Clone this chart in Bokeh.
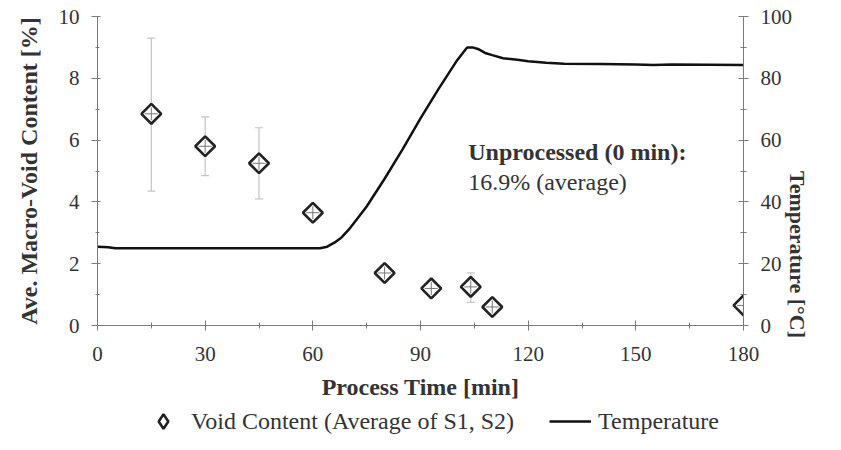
import math
from bokeh.plotting import figure
from bokeh.layouts import column
from bokeh.models import (Range1d, LinearAxis, Whisker, ColumnDataSource, Legend,
                          LegendItem, Label, SingleIntervalTicker, TeeHead)
from bokeh.embed import file_html
from bokeh.resources import INLINE

# ---- data ----
time_void = [15, 30, 45, 60, 80, 93, 104, 110, 180]
void_avg = [6.85, 5.8, 5.25, 3.65, 1.7, 1.2, 1.25, 0.6, 0.65]
void_low = [4.35, 4.85, 4.1, 3.65, 1.7, 1.2, 0.75, 0.6, 0.65]
void_high = [9.3, 6.75, 6.4, 3.65, 1.7, 1.2, 1.7, 0.6, 0.65]

time_temp = [0, 3, 5, 62, 64, 66, 68, 70, 72, 75, 80, 85, 90, 95, 100, 102, 103,
             104.5, 106, 108, 110, 113, 117, 120, 125, 130, 140, 150, 155, 160, 170, 180]
temp = [25.5, 25.3, 25.0, 25.0, 25.5, 26.8, 28.5, 31.0, 34.0, 38.5, 47.5, 57.0, 67.0,
        76.5, 85.5, 88.5, 90.0, 90.0, 89.5, 88.2, 87.5, 86.5, 86.0, 85.5, 85.0, 84.7,
        84.6, 84.5, 84.3, 84.5, 84.4, 84.3]

note_title = "Unprocessed (0 min):"
note_value = "16.9% (average)"
label_void = "Void Content (Average of S1, S2)"
label_temp = "Temperature"

FONT = "Liberation Serif"
AXC = "#7a7a7a"
TXT = "#333333"
TICK_FS = "21px"
LAB_FS = "24px"

p = figure(width=825, height=408, x_range=Range1d(0, 180), y_range=Range1d(0, 10),
           output_backend="svg", toolbar_location=None,
           min_border_left=97, min_border_right=82, min_border_top=16, min_border_bottom=83)
p.extra_y_ranges = {"temp": Range1d(0, 100)}
p.outline_line_color = None
p.grid.visible = False
p.background_fill_color = "white"
p.border_fill_color = "white"

def style_axis(ax):
    ax.axis_line_color = AXC
    ax.major_tick_line_color = AXC
    ax.minor_tick_line_color = AXC
    ax.major_label_text_font = FONT
    ax.major_label_text_font_size = TICK_FS
    ax.major_label_text_color = TXT
    ax.axis_label_text_font = FONT
    ax.axis_label_text_font_style = "bold"
    ax.axis_label_text_font_size = LAB_FS
    ax.axis_label_text_color = TXT

xa = p.xaxis[0]
style_axis(xa)
xa.ticker = SingleIntervalTicker(interval=30, num_minor_ticks=2)
xa.major_tick_in = 5
xa.major_tick_out = 5
xa.minor_tick_in = 3
xa.minor_tick_out = 3
xa.major_label_standoff = 16
xa.axis_label = "Process Time [min]"
xa.axis_label_standoff = 10

ya = p.yaxis[0]
style_axis(ya)
ya.ticker = SingleIntervalTicker(interval=2, num_minor_ticks=2)
ya.major_tick_in = 3
ya.major_tick_out = 6
ya.minor_tick_in = 2
ya.minor_tick_out = 2
ya.major_label_standoff = 12
ya.axis_label = "Ave. Macro-Void Content [%]"
ya.axis_label_standoff = 14

ra = LinearAxis(y_range_name="temp")
style_axis(ra)
ra.ticker = SingleIntervalTicker(interval=20, num_minor_ticks=2)
ra.major_tick_in = 5
ra.major_tick_out = 5
ra.minor_tick_in = 3
ra.minor_tick_out = 3
ra.major_label_standoff = 12
ra.axis_label = "Temperature  [°C]"
ra.axis_label_standoff = 2
ra.axis_label_text_font_size = "22px"
ra.axis_label_orientation = -math.pi / 2
p.add_layout(ra, "right")

# temperature line
p.line(time_temp, temp, y_range_name="temp", line_color="#111111", line_width=2.5)

# error bars
src = ColumnDataSource(dict(x=time_void, y=void_avg, lo=void_low, hi=void_high))
wh = Whisker(source=src, base="x", lower="lo", upper="hi", line_color="#c4c4c4", line_width=1.2,
             upper_head=TeeHead(size=8, line_color="#c4c4c4", line_width=1.2),
             lower_head=TeeHead(size=8, line_color="#c4c4c4", line_width=1.2))
p.add_layout(wh)

# markers
p.scatter("x", "y", source=src, marker="square", angle=math.pi / 4, size=14,
          fill_color="white", line_color="#222222", line_width=2.6)
p.scatter("x", "y", source=src, marker="cross", size=13,
          line_color="#777777", line_width=1)

# annotation
p.add_layout(Label(x=103.3, y=5.6, text=note_title, text_font=FONT, text_font_style="bold",
                   text_font_size=LAB_FS, text_color=TXT, text_baseline="middle"))
p.add_layout(Label(x=103.3, y=4.63, text=note_value, text_font=FONT,
                   text_font_size=LAB_FS, text_color=TXT, text_baseline="middle"))

# ---- legend strip (same series, ranges chosen so only the legend shows) ----
p2 = figure(width=825, height=26, x_range=Range1d(1000, 1001), y_range=Range1d(1000, 1001),
            output_backend="svg", toolbar_location=None, x_axis_type=None, y_axis_type=None,
            min_border_left=0, min_border_right=0, min_border_top=0, min_border_bottom=0)
p2.outline_line_color = None
p2.grid.visible = False
p2.background_fill_color = "white"
p2.border_fill_color = "white"
r_void = p2.scatter("x", "y", source=src, marker="diamond", size=14,
                    fill_color="white", line_color="#222222", line_width=2.6)
r_temp = p2.line(time_temp, temp, line_color="#111111", line_width=2.5)
legend = Legend(items=[LegendItem(label=label_void, renderers=[r_void]),
                       LegendItem(label=label_temp, renderers=[r_temp])],
                orientation="horizontal", location=(45, -5),
                label_text_font=FONT, label_text_font_size=LAB_FS, label_text_color=TXT,
                glyph_width=42, glyph_height=36, label_standoff=7, spacing=35,
                border_line_color=None, background_fill_alpha=0, padding=0, margin=0)
p2.add_layout(legend, "center")

open("out.html", "w").write(file_html(column(p, p2, spacing=0), INLINE))
